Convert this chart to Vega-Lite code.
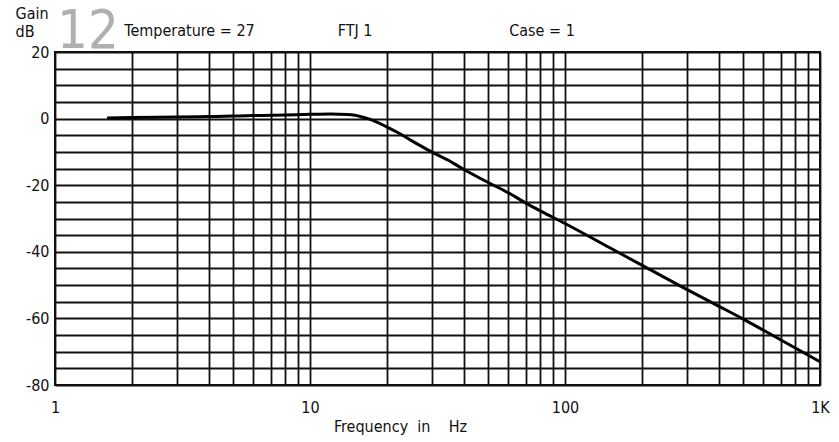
{
  "$schema": "https://vega.github.io/schema/vega-lite/v6.json",
  "width": 765,
  "height": 333,
  "autosize": {"type": "none"},
  "padding": {"left": 55, "top": 52, "right": 19, "bottom": 57},
  "background": "white",
  "title": {
    "text": "12",
    "anchor": "start",
    "dx": 42,
    "dy": 101,
    "fontSize": 54,
    "font": "DejaVu Sans Condensed",
    "fontWeight": "normal",
    "color": "#b0b0b0",
    "baseline": "alphabetic",
    "offset": 4
  },
  "data": {
    "values": [
      {"frequency": 1.6, "gain": 0.2},
      {"frequency": 2, "gain": 0.3},
      {"frequency": 3, "gain": 0.5},
      {"frequency": 4, "gain": 0.6},
      {"frequency": 5, "gain": 0.75},
      {"frequency": 6, "gain": 0.9},
      {"frequency": 8, "gain": 1.1},
      {"frequency": 10, "gain": 1.3},
      {"frequency": 12, "gain": 1.4},
      {"frequency": 14, "gain": 1.25},
      {"frequency": 15, "gain": 1.0},
      {"frequency": 16, "gain": 0.5},
      {"frequency": 17, "gain": -0.1},
      {"frequency": 18, "gain": -0.8},
      {"frequency": 20, "gain": -2.5},
      {"frequency": 22, "gain": -4.1},
      {"frequency": 25, "gain": -6.6},
      {"frequency": 30, "gain": -10.0},
      {"frequency": 35, "gain": -12.6},
      {"frequency": 40, "gain": -15.2},
      {"frequency": 50, "gain": -19.2},
      {"frequency": 60, "gain": -22.3},
      {"frequency": 70, "gain": -25.3},
      {"frequency": 80, "gain": -27.7},
      {"frequency": 100, "gain": -31.5},
      {"frequency": 150, "gain": -38.8},
      {"frequency": 200, "gain": -44.0},
      {"frequency": 300, "gain": -51.3},
      {"frequency": 400, "gain": -56.3},
      {"frequency": 500, "gain": -60.2},
      {"frequency": 700, "gain": -66.4},
      {"frequency": 1000, "gain": -73.0}
    ]
  },
  "layer": [
    {
      "mark": {"type": "line", "color": "#000", "strokeWidth": 3, "interpolate": "monotone"},
      "encoding": {
        "x": {
          "field": "frequency",
          "type": "quantitative",
          "scale": {"type": "log", "domain": [1, 1000], "nice": false},
          "axis": {
            "orient": "bottom",
            "values": [1, 2, 3, 4, 5, 6, 7, 8, 9, 10, 20, 30, 40, 50, 60, 70, 80, 90, 100, 200, 300, 400, 500, 600, 700, 800, 900, 1000],
            "labelExpr": "datum.value == 1 ? '1' : datum.value == 10 ? '10' : datum.value == 100 ? '100' : datum.value == 1000 ? '1K' : ''",
            "labelOverlap": false,
            "labelFlush": false,
            "labelBaseline": "top",
            "labelPadding": 14,
            "title": "Frequency\u00a0 in\u00a0\u00a0\u00a0 Hz",
            "titleX": 345,
            "titleY": 46,
            "titleAlign": "center",
            "titleBaseline": "alphabetic"
          }
        },
        "y": {
          "field": "gain",
          "type": "quantitative",
          "scale": {"domain": [-80, 20], "nice": false, "zero": false},
          "axis": {
            "values": [-80, -75, -70, -65, -60, -55, -50, -45, -40, -35, -30, -25, -20, -15, -10, -5, 0, 5, 10, 15, 20],
            "labelExpr": "datum.value % 20 == 0 ? (datum.value < 0 ? '-' + abs(datum.value) : '' + datum.value) : ''",
            "labelOverlap": false,
            "labelFlush": false,
            "labelBaseline": "middle",
            "labelPadding": 6,
            "title": ["Gain", "dB"],
            "titleAngle": 0,
            "titleAlign": "left",
            "titleBaseline": "alphabetic",
            "titleX": -40,
            "titleY": -34,
            "titleLineHeight": 18
          }
        }
      }
    },
    {
      "mark": {"type": "point", "opacity": 0},
      "encoding": {
        "x": {
          "field": "frequency",
          "type": "quantitative",
          "scale": {"type": "log", "domain": [1, 1000], "nice": false},
          "axis": {
            "orient": "top",
            "values": [3.354, 14.95, 80.9],
            "labelExpr": "datum.value < 5 ? 'Temperature = 27' : datum.value < 30 ? 'FTJ 1' : 'Case = 1'",
            "labelOverlap": false,
            "labelFlush": false,
            "grid": false,
            "labelBaseline": "alphabetic",
            "labelPadding": 17,
            "title": null
          }
        }
      }
    }
  ],
  "resolve": {"axis": {"x": "independent"}},
  "config": {
    "view": {"stroke": "#111", "strokeWidth": 2},
    "font": "DejaVu Sans Condensed",
    "axis": {
      "labelFont": "DejaVu Sans Condensed",
      "labelFontSize": 16,
      "labelColor": "#111",
      "titleFont": "DejaVu Sans Condensed",
      "titleFontSize": 16,
      "titleFontWeight": "normal",
      "titleColor": "#111",
      "grid": true,
      "gridColor": "#111",
      "gridOpacity": 1,
      "gridWidth": 1.8,
      "ticks": false,
      "domain": false
    }
  }
}
